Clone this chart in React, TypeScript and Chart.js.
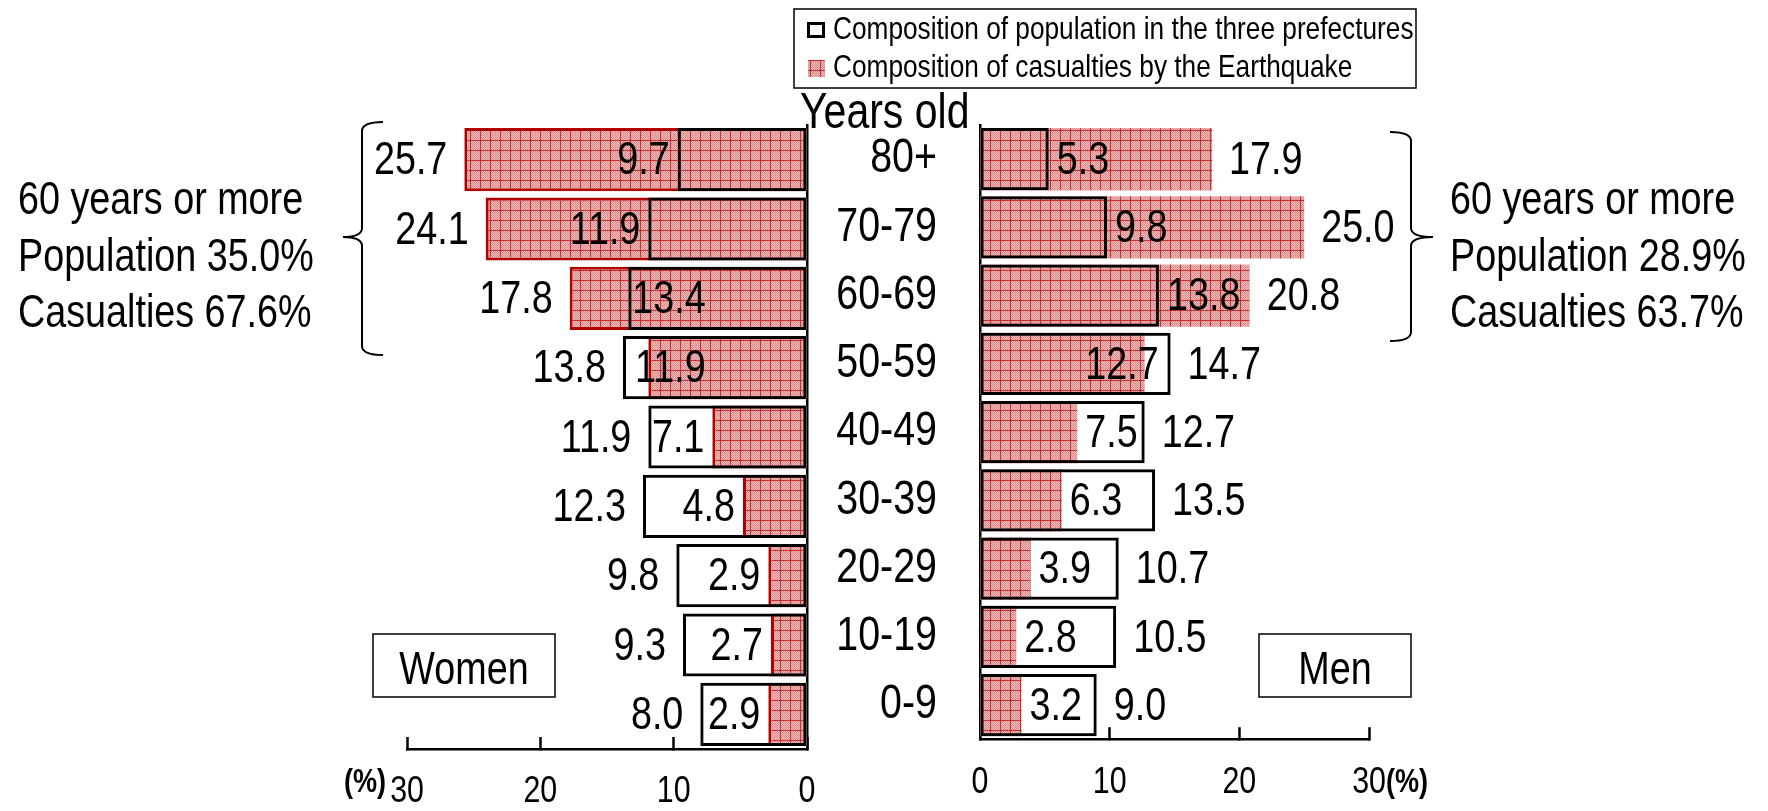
import React, { useEffect, useRef } from 'react';
import { Chart, registerables } from 'chart.js';

Chart.register(...registerables);

// ---------- data ----------
const ageGroups = ['80+', '70-79', '60-69', '50-59', '40-49', '30-39', '20-29', '10-19', '0-9'];
const womenPopulation = [9.7, 11.9, 13.4, 13.8, 11.9, 12.3, 9.8, 9.3, 8.0];
const womenCasualties = [25.7, 24.1, 17.8, 11.9, 7.1, 4.8, 2.9, 2.7, 2.9];
const menPopulation = [5.3, 9.8, 13.8, 14.7, 12.7, 13.5, 10.7, 10.5, 9.0];
const menCasualties = [17.9, 25.0, 20.8, 12.7, 7.5, 6.3, 3.9, 2.8, 3.2];
const axisMax = 30;
const axisStep = 10;
const legendLabels = [
  'Composition of population in the three prefectures',
  'Composition of casualties by the Earthquake',
];
const womenSummary = ['60 years or more', 'Population 35.0%', 'Casualties 67.6%'];
const menSummary = ['60 years or more', 'Population 28.9%', 'Casualties 63.7%'];
const axisTitle = 'Years old';
const unitLabel = '(%)';
const womenLabel = 'Women';
const menLabel = 'Men';

// ---------- font handling ----------
function fontAvailable(name: string): boolean {
  const c = document.createElement('canvas').getContext('2d');
  if (!c) return false;
  const sample = 'Composition 0123456789 Women Years';
  c.font = '40px monospace';
  const a = c.measureText(sample).width;
  c.font = `40px '${name}', monospace`;
  const b = c.measureText(sample).width;
  return Math.abs(a - b) > 0.5;
}

let FAMILY = "'Liberation Sans Narrow', 'Liberation Sans', Arial, sans-serif";
let SX = 1;

function setupFonts() {
  if (fontAvailable('Liberation Sans Narrow')) {
    FAMILY = "'Liberation Sans Narrow', 'Liberation Sans', Arial, sans-serif";
    SX = 1;
  } else {
    FAMILY = "'Liberation Sans', Arial, sans-serif";
    SX = 0.82;
  }
}

// condense all text drawn on a context (emulates a narrow face when none is installed)
function condense(ctx: CanvasRenderingContext2D | null) {
  if (!ctx || SX === 1 || (ctx as any).__condensed) return;
  const orig = ctx.fillText.bind(ctx);
  (ctx as any).fillText = (text: string, x: number, y: number, maxWidth?: number) => {
    const w = ctx.measureText(text).width * SX;
    orig(text, x, y, maxWidth !== undefined ? Math.min(maxWidth, w) : w);
  };
  (ctx as any).__condensed = true;
}

function drawText(
  ctx: CanvasRenderingContext2D,
  text: string,
  x: number,
  y: number,
  size: number,
  align: CanvasTextAlign,
  baseline: CanvasTextBaseline = 'middle',
  bold = false
) {
  ctx.save();
  ctx.font = `${bold ? 'bold ' : ''}${size}px ${FAMILY}`;
  ctx.textAlign = align;
  ctx.textBaseline = baseline;
  ctx.fillStyle = '#000';
  ctx.fillText(text, x, y);
  ctx.restore();
}

function textWidth(ctx: CanvasRenderingContext2D, text: string, size: number) {
  ctx.save();
  ctx.font = `${size}px ${FAMILY}`;
  const w = ctx.measureText(text).width * SX;
  ctx.restore();
  return w;
}

function makePattern(): CanvasPattern | string {
  const p = document.createElement('canvas');
  p.width = 10;
  p.height = 10;
  const g = p.getContext('2d');
  if (!g) return '#dc8e8e';
  for (let y = 0; y < 10; y++) {
    for (let x = 0; x < 10; x++) {
      g.fillStyle = (x + y) % 2 ? '#eebaba' : '#da8c8c';
      g.fillRect(x, y, 1, 1);
    }
  }
  g.fillStyle = '#c83030';
  g.fillRect(0, 0, 10, 1);
  g.fillRect(0, 0, 1, 10);
  return g.createPattern(p, 'repeat') || '#dc8e8e';
}

const VALUE_SIZE = 46;

function valueLabels(pop: number[], cas: number[], dir: number) {
  return {
    id: 'valueLabels',
    afterDatasetsDraw(chart: any) {
      const ctx: CanvasRenderingContext2D = chart.ctx;
      const xs = chart.scales.x;
      const ys = chart.scales.y;
      const outAlign: CanvasTextAlign = dir < 0 ? 'right' : 'left';
      const inAlign: CanvasTextAlign = dir < 0 ? 'left' : 'right';
      for (let i = 0; i < pop.length; i++) {
        const y = ys.getPixelForValue(i) + 2;
        const big = Math.max(pop[i], cas[i]);
        const small = Math.min(pop[i], cas[i]);
        const bigEnd = xs.getPixelForValue(big);
        const smallEnd = xs.getPixelForValue(small);
        drawText(ctx, big.toFixed(1), bigEnd + dir * 17, y, VALUE_SIZE, outAlign);
        const s = small.toFixed(1);
        const w = textWidth(ctx, s, VALUE_SIZE);
        const space = Math.abs(bigEnd - smallEnd);
        if (space >= w + 6) {
          drawText(ctx, s, smallEnd + dir * 8, y, VALUE_SIZE, outAlign);
        } else if (space < 30) {
          drawText(ctx, s, bigEnd - dir * 12, y, VALUE_SIZE, inAlign);
        } else {
          drawText(ctx, s, smallEnd - dir * 4, y, VALUE_SIZE, inAlign);
        }
      }
    },
  };
}

function brace(ctx: CanvasRenderingContext2D, x: number, top: number, bottom: number, tipX: number, mid: number, hook: number) {
  ctx.save();
  ctx.strokeStyle = '#000';
  ctx.lineWidth = 2;
  ctx.beginPath();
  ctx.moveTo(x + hook, top);
  ctx.quadraticCurveTo(x, top, x, top + 9);
  ctx.lineTo(x, mid - 9);
  ctx.quadraticCurveTo(x, mid, tipX, mid);
  ctx.quadraticCurveTo(x, mid, x, mid + 9);
  ctx.lineTo(x, bottom - 9);
  ctx.quadraticCurveTo(x, bottom, x + hook, bottom);
  ctx.stroke();
  ctx.restore();
}

const SUMMARY_BASELINES = [214, 271, 327];

const womenDecor = {
  id: 'womenDecor',
  afterDraw(chart: any) {
    const ctx: CanvasRenderingContext2D = chart.ctx;
    drawText(ctx, unitLabel, 386, 783, 33, 'right', 'middle', true);
    brace(ctx, 362, 122, 355, 343, 237, 21);
    womenSummary.forEach((t, i) => drawText(ctx, t, 18, SUMMARY_BASELINES[i], 46, 'left', 'alphabetic'));
    ctx.save();
    ctx.strokeStyle = '#000';
    ctx.lineWidth = 1.5;
    ctx.strokeRect(373, 634, 182, 63);
    ctx.restore();
    drawText(ctx, womenLabel, 464, 684, 46, 'center', 'alphabetic');
  },
};

function menDecor(offsetX: number, pattern: CanvasPattern | string) {
  return {
    id: 'menDecor',
    afterDraw(chart: any) {
      const ctx: CanvasRenderingContext2D = chart.ctx;
      ctx.save();
      ctx.translate(-offsetX, 0);
      // legend
      ctx.save();
      ctx.fillStyle = '#fff';
      ctx.fillRect(794, 9, 622, 79);
      ctx.strokeStyle = '#000';
      ctx.lineWidth = 1.5;
      ctx.strokeRect(794, 9, 622, 79);
      ctx.lineWidth = 3;
      ctx.strokeRect(808.5, 23.5, 15, 13);
      ctx.fillStyle = pattern as any;
      ctx.fillRect(808, 60, 17, 17);
      ctx.restore();
      drawText(ctx, legendLabels[0], 833, 30, 32, 'left');
      drawText(ctx, legendLabels[1], 833, 68, 32, 'left');
      // axis title
      drawText(ctx, axisTitle, 800, 128, 50, 'left', 'alphabetic');
      drawText(ctx, unitLabel, 1386, 783, 33, 'left', 'middle', true);
      // right brace
      brace(ctx, 1411, 132, 341, 1433, 237, -21);
      menSummary.forEach((t, i) => drawText(ctx, t, 1450, SUMMARY_BASELINES[i], 46, 'left', 'alphabetic'));
      ctx.save();
      ctx.strokeStyle = '#000';
      ctx.lineWidth = 1.5;
      ctx.strokeRect(1259, 634, 152, 63);
      ctx.restore();
      drawText(ctx, menLabel, 1335, 684, 46, 'center', 'alphabetic');
      ctx.restore();
    },
  };
}

const CHART_TOP = 125;
const AXIS_H = 62;
const WOMEN_W = 830;
const WOMEN_RIGHT = 807;
const MEN_LEFT = 780;

function xScale(reverse: boolean) {
  return {
    type: 'linear' as const,
    reverse,
    min: 0,
    max: axisMax,
    position: 'bottom' as const,
    ticks: {
      stepSize: axisStep,
      padding: 33,
      color: '#000',
      font: { family: FAMILY, size: 37 },
      maxRotation: 0,
      autoSkip: false,
    },
    grid: {
      display: true,
      drawOnChartArea: false,
      drawTicks: true,
      tickLength: -12,
      tickWidth: 2.5,
      tickColor: '#000',
      color: '#000',
    },
    border: { display: true, color: '#000', width: 2.5 },
    afterFit: (s: any) => {
      s.height = AXIS_H;
      s.paddingLeft = 0;
      s.paddingRight = 0;
    },
  };
}

function barDatasets(pop: number[], cas: number[], pattern: CanvasPattern | string, casBorder: string | null) {
  return [
    {
      label: 'Population outline',
      data: pop,
      backgroundColor: 'rgba(0,0,0,0)',
      borderColor: '#000',
      borderWidth: 3,
      borderSkipped: false,
      grouped: false,
      order: 0,
    } as any,
    {
      label: legendLabels[1],
      data: cas,
      backgroundColor: pattern as any,
      borderColor: casBorder || 'rgba(0,0,0,0)',
      borderWidth: casBorder ? 3 : 0,
      borderSkipped: false,
      grouped: false,
      order: 1,
    } as any,
    {
      label: legendLabels[0],
      data: pop,
      backgroundColor: '#fff',
      borderWidth: 0,
      grouped: false,
      order: 2,
    } as any,
  ];
}

export default function App() {
  const wRef = useRef<HTMLCanvasElement>(null);
  const mRef = useRef<HTMLCanvasElement>(null);

  useEffect(() => {
    setupFonts();
    const wCanvas = wRef.current as HTMLCanvasElement;
    const mCanvas = mRef.current as HTMLCanvasElement;
    condense(wCanvas.getContext('2d'));
    condense(mCanvas.getContext('2d'));
    const patW = makePattern();
    const patM = makePattern();

    const common = {
      indexAxis: 'y' as const,
      animation: false as const,
      responsive: false,
      maintainAspectRatio: false,
      datasets: { bar: { barPercentage: 0.91, categoryPercentage: 1 } },
      plugins: { legend: { display: false }, tooltip: { enabled: false } },
    };

    const women = new Chart(wCanvas, {
      type: 'bar',
      data: { labels: ageGroups, datasets: barDatasets(womenPopulation, womenCasualties, patW, '#b00000') },
      options: {
        ...common,
        layout: { padding: { left: 407, right: WOMEN_W - WOMEN_RIGHT, top: CHART_TOP, bottom: 0 } },
        scales: {
          x: xScale(true) as any,
          y: {
            type: 'category',
            position: 'right',
            ticks: { display: false },
            grid: { display: false, drawTicks: false },
            border: { display: true, color: '#000', width: 2.5 },
            afterFit: (s: any) => {
              s.width = 0;
            },
          } as any,
        },
      } as any,
      plugins: [valueLabels(womenPopulation, womenCasualties, -1), womenDecor],
    });

    const men = new Chart(mCanvas, {
      type: 'bar',
      data: { labels: ageGroups, datasets: barDatasets(menPopulation, menCasualties, patM, null) },
      options: {
        ...common,
        layout: { padding: { left: 0, right: 1768 - 1369, top: CHART_TOP, bottom: 0 } },
        scales: {
          x: xScale(false) as any,
          y: {
            type: 'category',
            position: 'left',
            ticks: {
              color: '#000',
              padding: 43,
              font: { family: FAMILY, size: 48 },
            },
            grid: { display: false, drawTicks: false },
            border: { display: true, color: '#000', width: 2.5 },
            afterFit: (s: any) => {
              s.width = 980 - MEN_LEFT;
            },
          } as any,
        },
      } as any,
      plugins: [valueLabels(menPopulation, menCasualties, 1), menDecor(MEN_LEFT, patM)],
    });

    return () => {
      women.destroy();
      men.destroy();
    };
  }, []);

  return (
    <div style={{ position: 'absolute', left: 0, top: 0, width: 1768, height: 811, background: '#fff' }}>
      <canvas
        ref={wRef}
        width={WOMEN_W}
        height={811}
        style={{ position: 'absolute', left: 0, top: 0, width: WOMEN_W, height: 811 }}
      />
      <canvas
        ref={mRef}
        width={1768 - MEN_LEFT}
        height={811}
        style={{ position: 'absolute', left: MEN_LEFT, top: 0, width: 1768 - MEN_LEFT, height: 811 }}
      />
    </div>
  );
}
